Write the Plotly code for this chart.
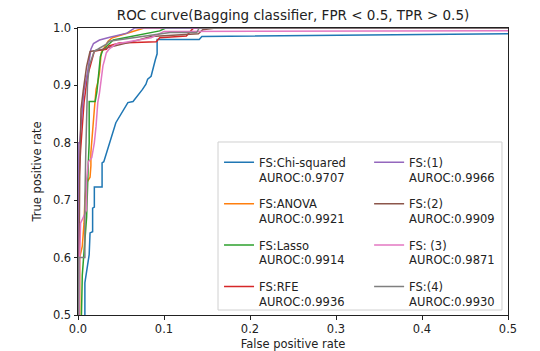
import plotly.graph_objects as go

# ---- data ----
names = ["FS:Chi-squared", "FS:ANOVA", "FS:Lasso", "FS:RFE", "FS:(1)", "FS:(2)", "FS: (3)", "FS:(4)"]
aurocs = ["0.9707", "0.9921", "0.9914", "0.9936", "0.9966", "0.9909", "0.9871", "0.9930"]
colors = ["#1f77b4", "#ff7f0e", "#2ca02c", "#d62728", "#9467bd", "#8c564b", "#e377c2", "#7f7f7f"]

chi_fpr = [0.008, 0.008, 0.013, 0.014, 0.017, 0.017, 0.019, 0.019, 0.028, 0.028, 0.030, 0.044, 0.058, 0.064, 0.075, 0.079, 0.081, 0.085, 0.090, 0.092, 0.092, 0.141, 0.144, 0.5]
chi_tpr = [0.45, 0.556, 0.605, 0.643, 0.645, 0.686, 0.688, 0.723, 0.723, 0.765, 0.767, 0.835, 0.870, 0.872, 0.893, 0.902, 0.911, 0.916, 0.945, 0.955, 0.980, 0.980, 0.985, 0.990]

anova_fpr = [0, 0.002, 0.002, 0.005, 0.007, 0.008, 0.010, 0.014, 0.015, 0.015, 0.019, 0.021, 0.023, 0.025, 0.027, 0.035, 0.040, 0.075, 0.077, 0.5]
anova_tpr = [0.3, 0.5, 0.6, 0.62, 0.66, 0.70, 0.73, 0.74, 0.76, 0.783, 0.858, 0.893, 0.905, 0.922, 0.957, 0.977, 0.983, 0.998, 1.0, 1.0]

lasso_fpr = [0.004, 0.004, 0.005, 0.010, 0.012, 0.013, 0.013, 0.020, 0.022, 0.024, 0.026, 0.029, 0.041, 0.095, 0.102, 0.5]
lasso_tpr = [0.3, 0.5, 0.57, 0.67, 0.765, 0.8, 0.872, 0.872, 0.889, 0.927, 0.95, 0.962, 0.979, 0.995, 1.0, 1.0]

rfe_fpr = [0, 0.001, 0.0015, 0.003, 0.0055, 0.007, 0.011, 0.017, 0.019, 0.033, 0.036, 0.048, 0.091, 0.095, 0.126, 0.133, 0.135, 0.5]
rfe_tpr = [0.3, 0.6, 0.742, 0.787, 0.835, 0.870, 0.916, 0.951, 0.960, 0.963, 0.969, 0.974, 0.976, 0.983, 0.986, 0.998, 1.0, 1.0]

fs1_fpr = [0, 0, 0.0005, 0.001, 0.002, 0.005, 0.007, 0.011, 0.013, 0.015, 0.018, 0.025, 0.037, 0.057, 0.063, 0.066, 0.5]
fs1_tpr = [0.3, 0.5, 0.55, 0.80, 0.80, 0.857, 0.892, 0.922, 0.945, 0.963, 0.973, 0.979, 0.984, 0.991, 0.997, 1.0, 1.0]

fs2_fpr = [0, 0.001, 0.002, 0.0035, 0.0055, 0.006, 0.010, 0.014, 0.027, 0.035, 0.060, 0.085, 0.140, 0.145, 0.160, 0.5]
fs2_tpr = [0.3, 0.6, 0.75, 0.859, 0.887, 0.89, 0.933, 0.959, 0.962, 0.966, 0.975, 0.985, 0.990, 0.997, 1.0, 1.0]

fs3_fpr = [0, 0.001, 0.002, 0.003, 0.010, 0.010, 0.012, 0.016, 0.019, 0.021, 0.023, 0.025, 0.027, 0.029, 0.031, 0.033, 0.036, 0.044, 0.085, 0.100, 0.5]
fs3_tpr = [0.3, 0.55, 0.6, 0.66, 0.683, 0.735, 0.767, 0.774, 0.80, 0.829, 0.87, 0.887, 0.916, 0.934, 0.945, 0.957, 0.963, 0.972, 0.983, 0.994, 0.995]

fs4_fpr = [0, 0.001, 0.008, 0.008, 0.009, 0.010, 0.011, 0.013, 0.019, 0.023, 0.033, 0.036, 0.084, 0.107, 0.138, 0.141, 0.5]
fs4_tpr = [0.3, 0.6, 0.6, 0.70, 0.78, 0.85, 0.90, 0.934, 0.960, 0.963, 0.972, 0.977, 0.987, 0.992, 0.992, 1.0, 1.0]

fprs = [chi_fpr, anova_fpr, lasso_fpr, rfe_fpr, fs1_fpr, fs2_fpr, fs3_fpr, fs4_fpr]
tprs = [chi_tpr, anova_tpr, lasso_tpr, rfe_tpr, fs1_tpr, fs2_tpr, fs3_tpr, fs4_tpr]

x_ticks = [0.0, 0.1, 0.2, 0.3, 0.4, 0.5]
y_ticks = [0.5, 0.6, 0.7, 0.8, 0.9, 1.0]

FONT = "DejaVu Sans"

fig = go.Figure()
for i in range(8):
    fig.add_trace(go.Scatter(
        x=fprs[i], y=tprs[i], mode="lines",
        name=f"{names[i]}<br>AUROC:{aurocs[i]}",
        line=dict(color=colors[i], width=1.5),
        legend="legend" if i < 4 else "legend2",
        legendgroup=f"g{i}",
        hoverinfo="skip",
    ))

axis_common = dict(
    showgrid=False, zeroline=False, showline=True, mirror=True,
    linecolor="#222", linewidth=1, ticks="outside", ticklen=3.5,
    tickwidth=0.8, tickcolor="#222", tickformat=".1f", automargin=False,
    tickfont=dict(family=FONT, size=11.5, color="#222"),
)

# page body has an 8px margin, so the figure is sized to fit inside the window
W, H = 532, 343

fig.update_layout(
    width=W, height=H,
    margin=dict(l=70, r=32, t=20, b=36, autoexpand=False),
    paper_bgcolor="white", plot_bgcolor="white",
    font=dict(family=FONT, color="#222"),
    title=dict(text="ROC curve(Bagging classifier, FPR < 0.5, TPR > 0.5)",
               x=0.5, xref="paper", xanchor="center",
               y=1 - 7 / H, yanchor="middle", automargin=False,
               font=dict(family=FONT, size=13.5, color="#222")),
    xaxis=dict(range=[0, 0.5], tickvals=x_ticks,
               title=dict(text="False positive rate", standoff=6,
                          font=dict(family=FONT, size=11.5)),
               **axis_common),
    yaxis=dict(range=[0.5, 1.0], tickvals=y_ticks,
               title=dict(text="True positive rate", standoff=8,
                          font=dict(family=FONT, size=11.5)),
               **axis_common),
    legend=dict(x=0.328, y=0.581, xanchor="left", yanchor="top",
                bgcolor="rgba(0,0,0,0)", borderwidth=0,
                font=dict(family=FONT, size=11.5, color="#222"),
                tracegroupgap=8.5, valign="top"),
    legend2=dict(x=0.677, y=0.581, xanchor="left", yanchor="top",
                 bgcolor="rgba(0,0,0,0)", borderwidth=0,
                 font=dict(family=FONT, size=11.5, color="#222"),
                 tracegroupgap=8.5, valign="top"),
    shapes=[dict(type="rect", xref="paper", yref="paper",
                 x0=0.3256, x1=0.986, y0=0.0174, y1=0.6028,
                 line=dict(color="#d0d0d0", width=1),
                 fillcolor="rgba(255,255,255,0.8)", layer="above")],
)

fig.write_html("out.html")
